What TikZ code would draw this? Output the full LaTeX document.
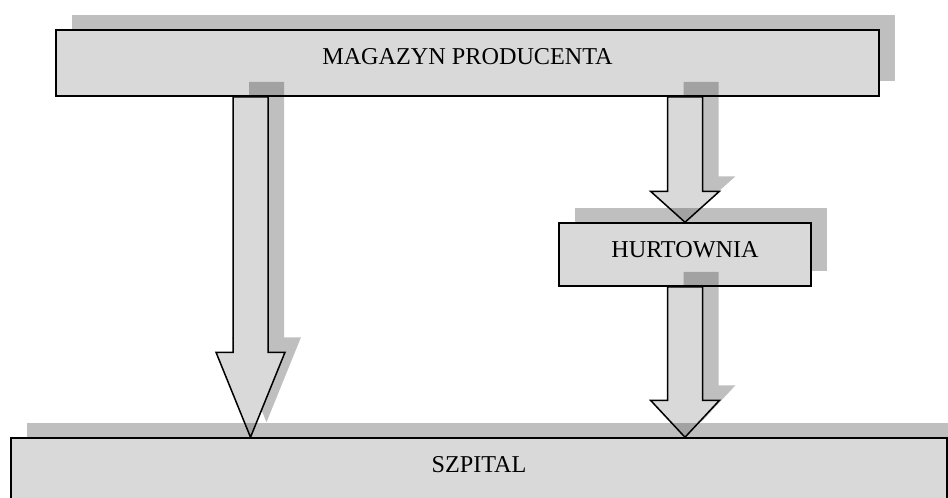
\documentclass[tikz,border=0pt]{standalone}
\usepackage{fontspec}
\setmainfont{Liberation Serif}
\usetikzlibrary{calc,shadows}

\pgfdeclarelayer{one}
\pgfdeclarelayer{two}
\pgfdeclarelayer{three}
\pgfdeclarelayer{four}
\pgfsetlayers{one,two,three,four,main}

\newcommand{\arrowpath}[4]{($(#1)+(-17.5,0)+#4$) -- ($(#2)+(-17.5,-#3)+#4$) -- ($(#2)+(-34.5,-#3)+#4$) -- ($(#2)+#4$) -- ($(#2)+(34.5,-#3)+#4$) -- ($(#2)+(17.5,-#3)+#4$) -- ($(#1)+(17.5,0)+#4$) -- cycle}

\begin{document}
\begin{tikzpicture}[x=1pt, y=-1pt,
    box/.style={draw, line width=1.5pt, fill=black!15, inner sep=0pt,
        text height=16pt, text depth=14pt, font=\fontsize{24.2}{28}\selectfont,
        drop shadow={shadow xshift=16pt, shadow yshift=15pt, fill=black, opacity=0.25}},
    arrowbody/.style={draw, line width=1.5pt, fill=black!15},
    arrowshade/.style={fill=black, opacity=0.25}]
    \path[use as bounding box, clip] (0,0) rectangle (948,498);

    \begin{pgfonlayer}{one}
    \node[box, minimum width=823pt, minimum height=66pt] (mag) at (467.5,63) {MAGAZYN PRODUCENTA};
    \end{pgfonlayer}
    \begin{pgfonlayer}{three}
    \node[box, minimum width=252pt, minimum height=63pt, text depth=11pt] (hurt) at (685,254.5) {HURTOWNIA};
    \end{pgfonlayer}
    \node[box, minimum width=936pt, minimum height=66pt] (szp) at (479,471) {SZPITAL};
    \coordinate (lx) at (250.5,0);

    \begin{pgfonlayer}{two}
    \fill[arrowshade] \arrowpath{mag.south -| lx}{szp.north -| lx}{85}{(16,-15)};
    \draw[arrowbody] \arrowpath{mag.south -| lx}{szp.north -| lx}{85}{(0,0)};
    \fill[arrowshade] \arrowpath{mag.south -| hurt}{hurt.north}{31}{(16,-15)};
    \draw[arrowbody] \arrowpath{mag.south -| hurt}{hurt.north}{31}{(0,0)};
    \end{pgfonlayer}
    \begin{pgfonlayer}{four}
    \fill[arrowshade] \arrowpath{hurt.south}{szp.north -| hurt}{37}{(16,-15)};
    \draw[arrowbody] \arrowpath{hurt.south}{szp.north -| hurt}{37}{(0,0)};
    \end{pgfonlayer}
\end{tikzpicture}
\end{document}
